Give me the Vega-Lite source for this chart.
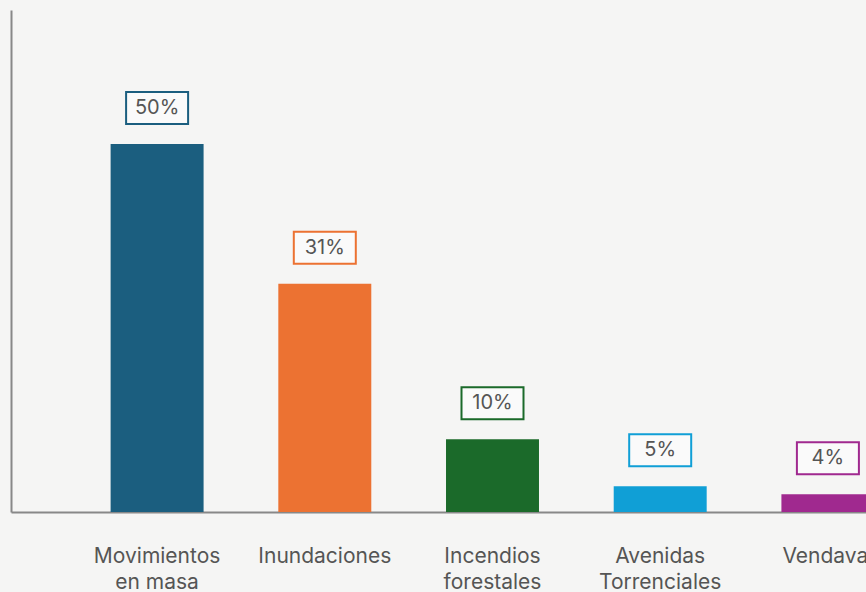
{
  "$schema": "https://vega.github.io/schema/vega-lite/v6.json",
  "width": 963,
  "height": 502,
  "padding": {"left": 11, "top": 10, "right": 0, "bottom": 40},
  "background": "#f5f5f4",
  "config": {
    "view": {"stroke": null},
    "font": "Inter"
  },
  "data": {
    "values": [
      {"categoria": "Movimientos en masa", "valor": 50, "etiqueta": "50%", "color": "#1b5e7f"},
      {"categoria": "Inundaciones", "valor": 31, "etiqueta": "31%", "color": "#ec7232"},
      {"categoria": "Incendios forestales", "valor": 9.9, "etiqueta": "10%", "color": "#1b6a2a"},
      {"categoria": "Avenidas Torrenciales", "valor": 3.5, "etiqueta": "5%", "color": "#109fd6"},
      {"categoria": "Vendaval", "valor": 2.4, "etiqueta": "4%", "color": "#a0298f"}
    ]
  },
  "encoding": {
    "x": {
      "field": "categoria",
      "type": "nominal",
      "sort": null,
      "scale": {"paddingInner": 0.4456, "paddingOuter": 0.594},
      "axis": {
        "title": null,
        "domainColor": "#888888",
        "domainWidth": 2,
        "ticks": false,
        "labelAngle": 0,
        "labelFont": "Inter",
        "labelFontSize": 21,
        "labelColor": "#555555",
        "labelPadding": 50,
        "labelLineHeight": 26,
        "labelBaseline": "alphabetic",
        "labelExpr": "datum.value == 'Movimientos en masa' ? ['Movimientos', 'en masa'] : split(datum.value, ' ')"
      }
    },
    "y": {
      "field": "valor",
      "type": "quantitative",
      "scale": {"domain": [0, 68.2], "nice": false},
      "axis": {
        "title": null,
        "labels": false,
        "ticks": false,
        "grid": false,
        "domainColor": "#888888",
        "domainWidth": 2
      }
    }
  },
  "layer": [
    {
      "mark": {"type": "bar"},
      "encoding": {
        "color": {"field": "color", "type": "nominal", "scale": null}
      }
    },
    {
      "mark": {"type": "rect", "width": 62, "yOffset": -52, "y2Offset": -20, "fill": "#fafafa", "strokeWidth": 2},
      "encoding": {
        "y2": {"field": "valor"},
        "stroke": {"field": "color", "type": "nominal", "scale": null}
      }
    },
    {
      "mark": {"type": "text", "yOffset": -36, "baseline": "middle", "align": "center", "fontSize": 20, "font": "Inter", "color": "#555555"},
      "encoding": {
        "text": {"field": "etiqueta"}
      }
    }
  ]
}
